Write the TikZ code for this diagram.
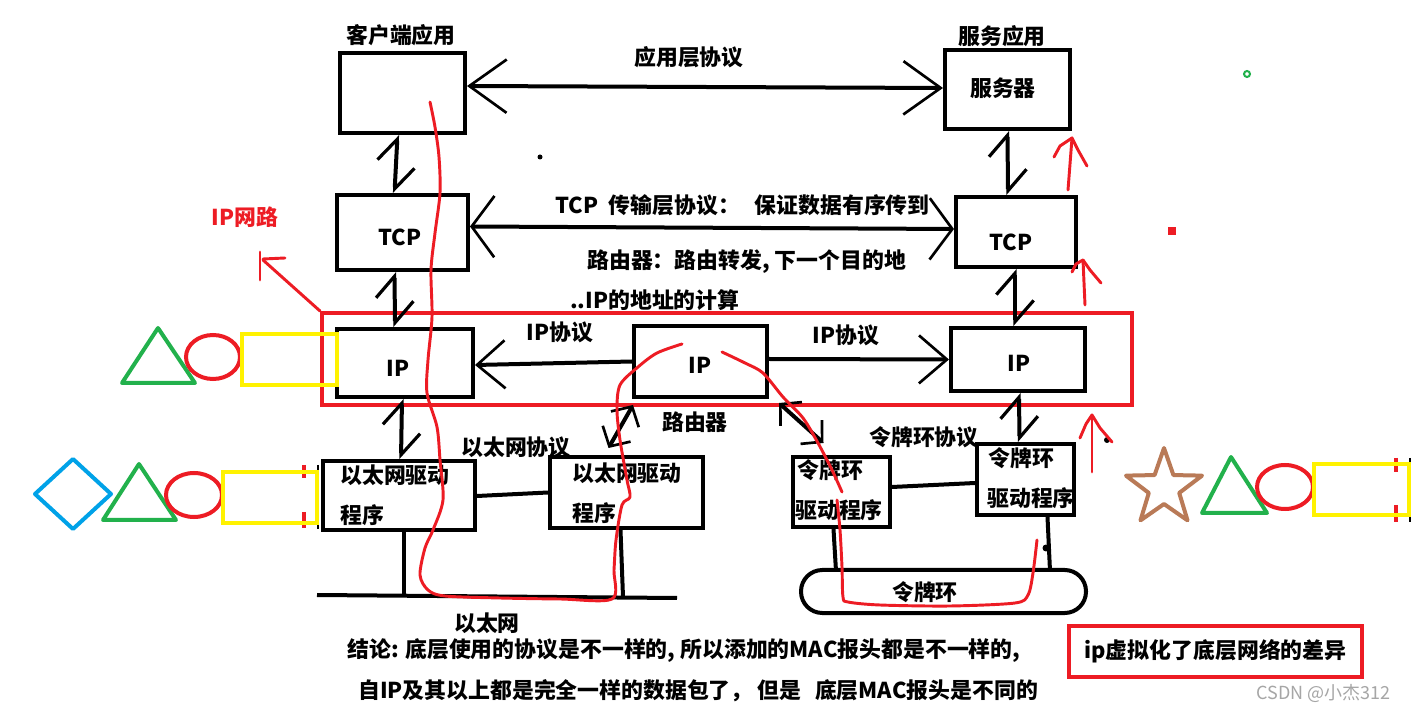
\documentclass[tikz,border=0pt]{standalone}
\usepackage{fontspec}
\setmainfont{Noto Sans CJK SC}
\usetikzlibrary{arrows.meta,calc}
\definecolor{pred}{HTML}{ED1C24}
\definecolor{pgreen}{HTML}{22B14C}
\definecolor{pyellow}{HTML}{FFF200}
\definecolor{pblue}{HTML}{00A2E8}
\definecolor{pbrown}{HTML}{B97A57}
\begin{document}
\begin{tikzpicture}[x=0.75pt,y=-0.75pt,
  lbl/.style={font=\bfseries\fontsize{16.4}{19}\selectfont, inner sep=0pt},
  box/.style 2 args={draw, line width=3pt, inner sep=0pt, minimum width=#1*0.75pt, minimum height=#2*0.75pt},
  conn/.style={line width=3pt},
  appb/.style={arrows={Straight Barb[length=28pt,width=40pt,line width=2pt]-Straight Barb[length=28pt,width=40pt,line width=2pt]}},
  tcpb/.style={arrows={Straight Barb[length=17pt,width=46pt,line width=2pt]-Straight Barb[length=17pt,width=46pt,line width=2pt]}},
  ipb/.style={arrows={-Straight Barb[length=21pt,width=36pt,line width=2pt]}},
  halfb/.style={arrows={Straight Barb[left,length=16pt,width=28pt,line width=2.4pt]-Straight Barb[left,length=16pt,width=28pt,line width=2.4pt]}},
  diagb/.style={arrows={Straight Barb[length=11pt,width=24pt,line width=2pt]-Straight Barb[length=11pt,width=24pt,line width=2pt]}},
  redline/.style={draw=pred, line width=2.2pt, line cap=round, line join=round},
  shp/.style={line width=3pt}]
\fill[white] (0,0) rectangle (1414,712);
\useasboundingbox (0,0) rectangle (1414,712);

% boxes
\node[box={125}{80}] (client) at (402.5,93) {};
\node[box={125}{79}] (server) at (1007.5,89.5) {};
\node[box={131}{75}] (tcpL) at (402.5,232.5) {};
\node[box={120}{70}] (tcpR) at (1016,232) {};
\node[box={136}{68}] (ipL) at (405,363) {};
\node[box={133}{71}] (ipM) at (700.5,361.5) {};
\node[box={134}{63}] (ipR) at (1018,359.5) {};
\node[box={152}{69}] (ethL) at (399,495.5) {};
\node[box={153}{71}] (ethM) at (626.5,492.5) {};
\node[box={97}{70}] (trL) at (841.5,492) {};
\node[box={97}{71}] (trR) at (1025.5,479.5) {};
\node[box={285}{43}, rounded corners=16pt] (ring) at (943.5,591.5) {};

% red frames
\node[draw=pred, line width=3pt, inner sep=0pt, minimum width=810*0.75pt, minimum height=92*0.75pt] (redrect) at (727,359) {};
\node[draw=pred, line width=3pt, inner sep=0pt, minimum width=293*0.75pt, minimum height=51*0.75pt, lbl] (diff) at (1215.5,651.5) {ip虚拟化了底层网络的差异};

% labels
\node[lbl] (tclient) at (401,35) {客户端应用};
\node[lbl] (tserverapp) at (1002,36) {服务应用};
\node[lbl] (tserver) at (1003,88) {服务器};
\node[lbl] (tapp) at (689,57) {应用层协议};
\node[lbl] (ttcpL) at (400,237) {TCP};
\node[lbl] (ttcpR) at (1011,242) {TCP};
\node[lbl, anchor=west] (ttcpproto) at (555,205) {TCP\hspace{8pt}传输层协议：\hspace{11pt}保证数据有序传到};
\node[lbl, anchor=west] (trouter) at (587,262) {路由器：路由转发, 下一个目的地};
\node[lbl, anchor=west] (tcalc) at (570,300) {..IP的地址的计算};
\node[lbl] (tipL) at (398,368) {IP};
\node[lbl] (tipM) at (700,365) {IP};
\node[lbl] (tipR) at (1019,363) {IP};
\node[lbl] (tipp1) at (560,332) {IP协议};
\node[lbl] (tipp2) at (846,335) {IP协议};
\node[lbl] (trouter2) at (695,422) {路由器};
\node[lbl] (tethp) at (516,447) {以太网协议};
\node[lbl] (ttrp) at (924,437) {令牌环协议};
\node[lbl] (teth) at (487,623) {以太网};
\node[lbl, anchor=west] (tethL1) at (340,475) {以太网驱动};
\node[lbl, anchor=west] (tethL2) at (340,515) {程序};
\node[lbl, anchor=west] (tethM1) at (572,473) {以太网驱动};
\node[lbl, anchor=west] (tethM2) at (572,513) {程序};
\node[lbl, anchor=west] (ttrL1) at (797,470) {令牌环};
\node[lbl, anchor=west] (ttrL2) at (795,510) {驱动程序};
\node[lbl, anchor=west] (ttrR1) at (988,458) {令牌环};
\node[lbl, anchor=west] (ttrR2) at (987,498) {驱动程序};
\node[lbl] (tring) at (925,592) {令牌环};
\node[lbl, anchor=west] (tc1) at (347,651) {结论: 底层使用的协议是不一样的, 所以添加的MAC报头都是不一样的,};
\node[lbl, anchor=west] (tc2) at (358,691) {自IP及其以上都是完全一样的数据包了，\hspace{4pt}但是\hspace{10pt}底层MAC报头是不同的};
\node[lbl, text=pred] (tipnet) at (245,217) {IP网路};
\node[font=\fontsize{13.5}{15}\selectfont, text=black!35, inner sep=0pt, anchor=west] (wm) at (1256,693) {CSDN @小杰312};

% connectors
\draw[conn, appb] ($(client.east)+(0,-7)$) -- ($(server.west)+(0,-1.5)$);
\draw[conn, tcpb] ($(tcpL.east)+(0,-6)$) -- ($(tcpR.west)+(0,-3)$);
\draw[conn, halfb] ($(client.south)+(-5,0)$) -- ($(tcpL.north)+(-8,0)$);
\draw[conn, halfb] ($(tcpL.south)+(-8,0)$) -- ($(ipL.north)+(-10,0)$);
\draw[conn, halfb] ($(ipL.south)+(-3,0)$) -- ($(ethL.north)+(2,0)$);
\draw[conn, halfb] (server.south) -- ($(tcpR.north)+(-8,0)$);
\draw[conn, halfb] ($(tcpR.south)+(-1,0)$) -- ($(ipR.north)+(-3,0)$);
\draw[conn, halfb] ($(ipR.south)+(1,0)$) -- ($(trR.north)+(-6,0)$);
\draw[conn, ipb] (ipM.west) -- ($(ipL.east)+(0,2)$);
\draw[conn, ipb] ($(ipM.east)+(0,-2.5)$) -- (ipR.west);
\draw[conn, diagb] ($(ipM.south west)+(1,6)$) -- ($(ethM.north)+(-18,-7)$);
\draw[conn, diagb] ($(ipM.south east)+(10,4)$) -- ($(trL.north)+(-18,-12)$);
\draw[conn] ($(ethL.east)+(0,0.5)$) -- (ethM.west);
\draw[conn] ($(trL.east)+(0,-5)$) -- ($(trR.west)+(0,3.5)$);
\coordinate (ethA) at (317,595);
\coordinate (ethB) at (677,598);
\coordinate (e1) at (404,596);
\coordinate (e2) at (623,597);
\coordinate (t1) at (836,571);
\coordinate (t2) at (1050,571);
\draw[conn] (ethA) -- (ethB);
\draw[conn] ($(ethL.south)+(5,0)$) -- (e1);
\draw[conn] ($(ethM.south)+(-6,0)$) -- (e2);
\draw[conn] ($(trL.south)+(-8,0)$) -- (t1);
\draw[conn] ($(trR.south)+(22,0)$) -- (t2);

% dots and small marks
\fill (540,157) circle (2.5);
\fill (1107,440) circle (3);
\fill (1046,548) circle (3.5);
\draw[line width=2pt] (318,465) -- (318,529);
\draw[line width=2pt] (1410,458) -- (1410,522);
\draw[draw=pred, line width=3pt] (304,465) -- (304,478) (304,512) -- (304,528);
\draw[draw=pred, line width=3pt] (1396,458) -- (1396,472) (1396,505) -- (1396,522);
\fill[pred] (1168,227) rectangle (1176,235);
\draw[pgreen, line width=1.5pt] (1247,74) circle (3);

% left shapes
\draw[pgreen, shp, line join=round] (158,328) -- (195,383) -- (122,383) -- cycle;
\draw[pred, shp] (213,357) ellipse (27 and 22);
\draw[pyellow, shp] (242,334) rectangle (337,385);
\draw[pblue, shp, line join=round] (73,459) -- (111,494) -- (73,529) -- (35,494) -- cycle;
\draw[pgreen, shp, line join=round] (139,464) -- (176,520) -- (103,520) -- cycle;
\draw[pred, shp] (194,495) ellipse (28 and 22);
\draw[pyellow, shp] (223,472) rectangle (317,523);
% right shapes
\draw[pbrown, shp, line join=round, shift={(1164,488)}] (-90:40) -- (-54:16) -- (-18:40) -- (18:16) -- (54:40) -- (90:16) -- (126:40) -- (162:16) -- (198:40) -- (234:16) -- cycle;
\draw[pgreen, shp, line join=round] (1231,457) -- (1267,513) -- (1202,513) -- cycle;
\draw[pred, shp] (1285,487) ellipse (28 and 22);
\draw[pyellow, shp] (1314,464) rectangle (1409,515);

% red annotations
\draw[redline] (redrect.north west) -- (263,260);
\draw[redline] (260,252) -- (260,280);
\draw[redline] (263,259) -- (285,258);
\draw[redline] (1068,190) -- (1072,138);
\draw[redline] (1054,157) -- (1060,146) -- (1072,138) -- (1078,150) -- (1087,166);
\draw[redline] (1085,305) -- (1083,260);
\draw[redline] (1072,272) -- (1076,264) -- (1083,260) -- (1090,270) -- (1101,283);
\draw[redline] (1092,472) -- (1092,415);
\draw[redline] (1080,438) -- (1086,424) -- (1092,415) -- (1100,428) -- (1112,442);
\draw[redline] plot[smooth, tension=0.5] coordinates {(430,102) (435,127) (439,157) (440,193) (435,233) (431,270) (432,317) (428,360) (427,393) (437,427) (440,460) (443,500) (433,530) (425,548) (420,575) (428,590) (445,596) (500,598) (560,599) (612,599) (614,570) (616,540) (622,505) (630,497) (627,480) (620,440) (617,410) (620,385) (638,367) (657,353) (682,344)};
\draw[redline] plot[smooth, tension=0.5] coordinates {(722,352) (745,363) (763,373) (783,397) (803,418) (818,443) (832,470) (842,492)};
\draw[redline] plot[smooth, tension=0.5] coordinates {(837,500) (840,530) (842,567) (843,597) (848,602) (880,605) (950,606) (1015,603) (1028,595) (1033,573) (1037,540)};
\end{tikzpicture}
\end{document}
